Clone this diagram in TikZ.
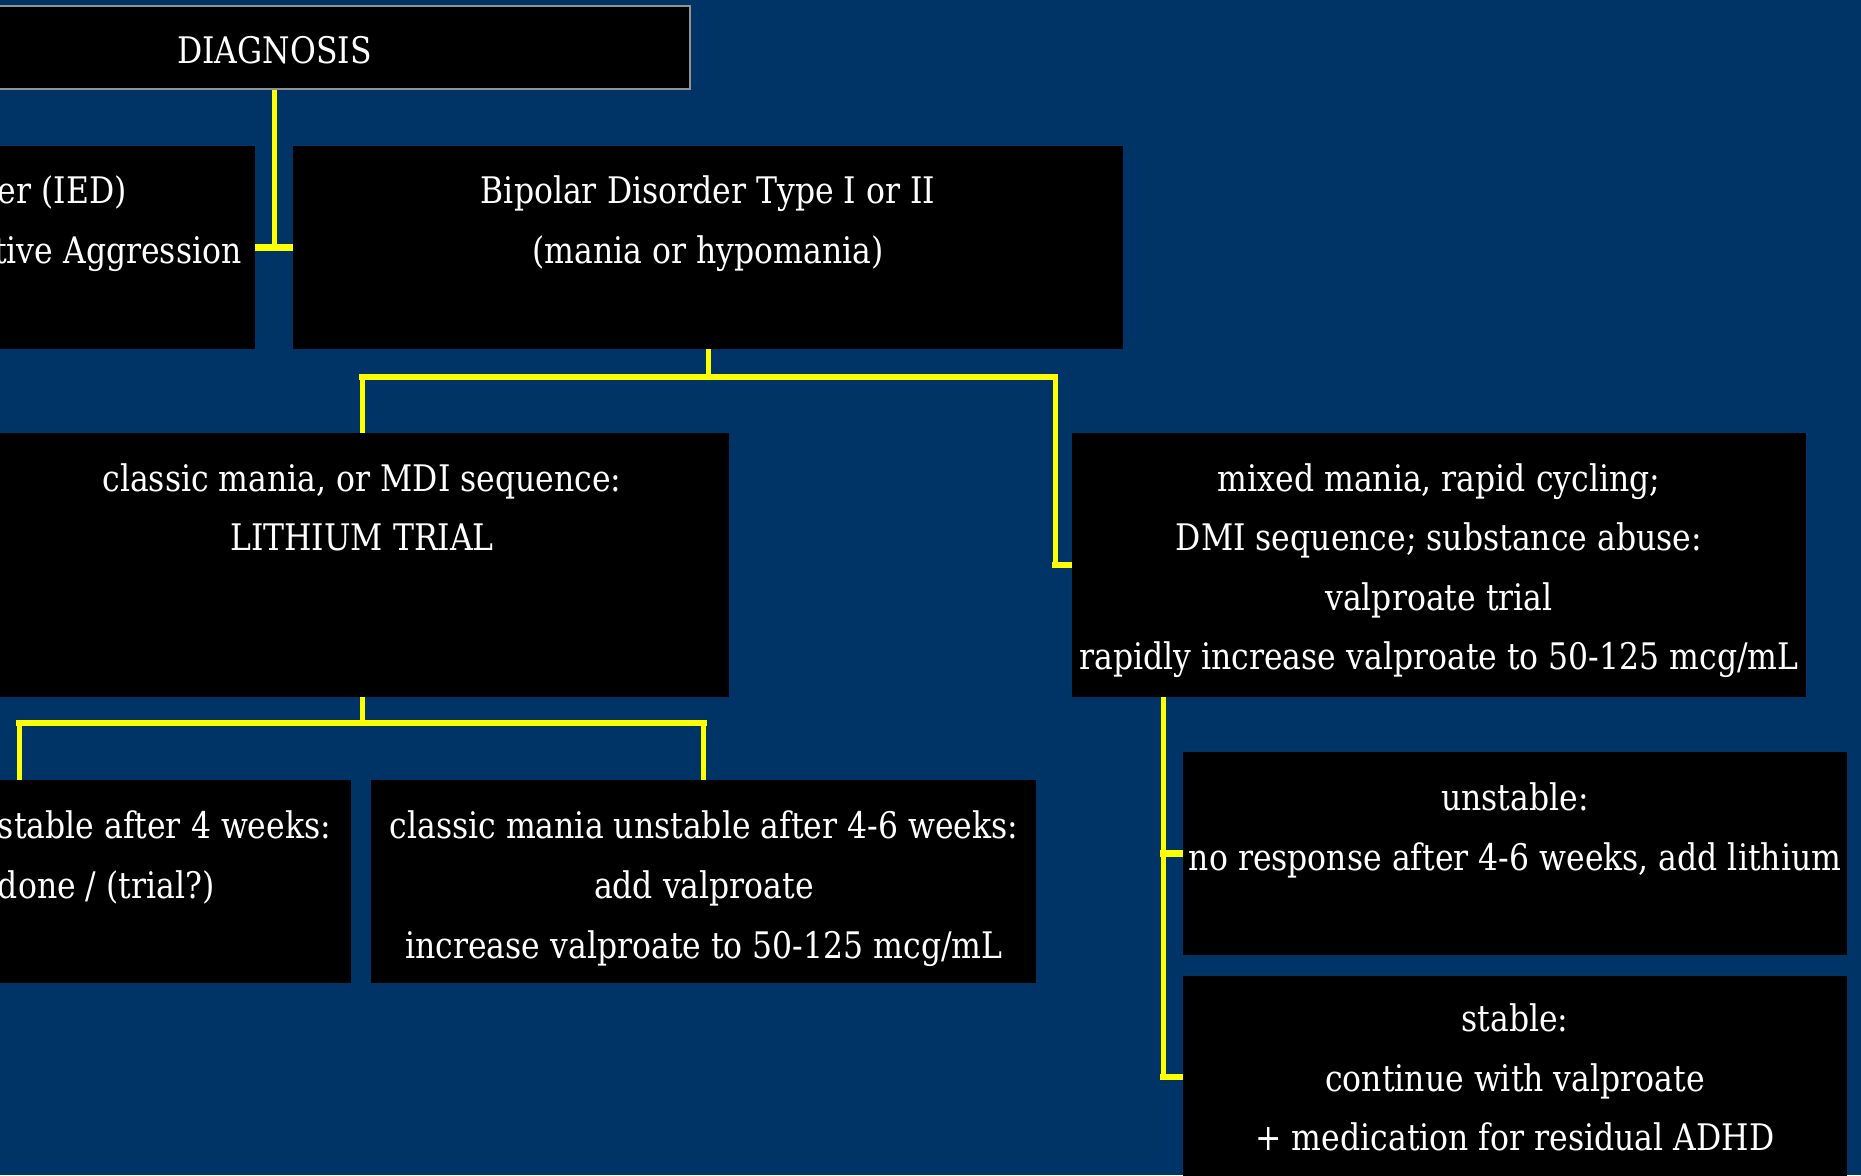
\documentclass[tikz,border=0pt]{standalone}
\usepackage{fontspec}
\setmainfont{DejaVu Serif}[FakeStretch=0.86]
\definecolor{navy}{RGB}{0,51,102}
\definecolor{yel}{RGB}{255,255,0}
\pgfdeclarelayer{bg}
\pgfdeclarelayer{lines}
\pgfsetlayers{bg,lines,main}
\begin{document}
\begin{tikzpicture}[x=0.5pt,y=-0.5pt,
  box/.style={fill=black, inner sep=0pt, minimum width=#1},
  lbl/.style={text=white, inner sep=0pt, anchor=base, font=\fontsize{18.3}{22}\selectfont},
  hconn/.style={draw=yel, line width=3.4pt, line cap=rect},
  vconn/.style={draw=yel, line width=2.5pt, line cap=rect}]
\useasboundingbox (0,0) rectangle (1861,1175);
\begin{pgfonlayer}{bg}
\fill[navy] (0,0) rectangle (1861,1175);
\end{pgfonlayer}
% boxes
\node[box=416pt, minimum height=41.5pt, draw=gray!85, line width=1pt] (diag) at (274,47.5) {};
\node[box=355pt, minimum height=101.5pt] (ied) at (-100,247.5) {};
\node[box=415pt, minimum height=101.5pt] (bip) at (708,247.5) {};
\node[box=367pt, minimum height=132pt] (classic) at (362,565) {};
\node[box=367pt, minimum height=132pt] (mixed) at (1439,565) {};
\node[box=361pt, minimum height=101.5pt] (bl) at (-10,881.5) {};
\node[box=332.5pt, minimum height=101.5pt] (bm) at (703.5,881.5) {};
\node[box=332pt, minimum height=101.5pt] (unst) at (1515,853.5) {};
\node[box=332pt, minimum height=101pt] (stable) at (1515,1077) {};
% texts
\node[lbl] (tdiag) at (274.5,63) {DIAGNOSIS};
\node[lbl, anchor=base east] (tied1) at (127,203) {der (IED)};
\node[lbl, anchor=base east] (tied2) at (242,263) {ctive Aggression};
\node[lbl] (tbip1) at (708,203) {Bipolar Disorder Type I or II};
\node[lbl] (tbip2) at (708,263) {(mania or hypomania)};
\node[lbl] (tcl1) at (362,491) {classic mania, or MDI sequence:};
\node[lbl] (tcl2) at (362,550.7) {LITHIUM TRIAL};
\node[lbl] (tmx1) at (1439,491) {mixed mania, rapid cycling;};
\node[lbl] (tmx2) at (1439,550.7) {DMI sequence; substance abuse:};
\node[lbl] (tmx3) at (1439,610) {valproate trial};
\node[lbl] (tmx4) at (1439,669.5) {rapidly increase valproate to 50-125 mcg/mL};
\node[lbl, anchor=base east] (tbl1) at (331.5,838) {nstable after 4 weeks:};
\node[lbl, anchor=base east] (tbl2) at (215,898) {done / (trial?)};
\node[lbl] (tbm1) at (704,838) {classic mania unstable after 4-6 weeks:};
\node[lbl] (tbm2) at (704,898) {add valproate};
\node[lbl] (tbm3) at (704,958) {increase valproate to 50-125 mcg/mL};
\node[lbl] (tun1) at (1515,810) {unstable:};
\node[lbl] (tun2) at (1515,870) {no response after 4-6 weeks, add lithium};
\node[lbl] (tst1) at (1515,1031.5) {stable:};
\node[lbl] (tst2) at (1515,1091.5) {continue with valproate};
\node[lbl] (tst3) at (1515,1150) {+ medication for residual ADHD};
% connectors
\coordinate (rb) at (1055,377);
\coordinate (lb) at (19,723);
\coordinate (ms) at (1163,697);
\begin{pgfonlayer}{lines}
\draw[vconn] (diag.south) -- (diag.south |- bip.west);
\draw[hconn] (ied.east) -- (bip.west);
\draw[vconn] (bip.south) -- (bip.south |- rb);
\draw[hconn] (classic.north |- rb) -- (rb);
\draw[vconn] (classic.north) -- (classic.north |- rb);
\draw[vconn] (rb) -- (rb |- mixed.west);
\draw[hconn] (rb |- mixed.west) -- (mixed.west);
\draw[vconn] (classic.south) -- (classic.south |- lb);
\draw[hconn] (lb) -- (lb -| bm.north);
\draw[vconn] (lb) -- (lb |- bl.north);
\draw[vconn] (lb -| bm.north) -- (bm.north);
\draw[vconn] (ms) -- (ms |- stable.west);
\draw[hconn] (ms |- stable.west) -- (stable.west);
\draw[hconn] (ms |- unst.west) -- (unst.west);
\end{pgfonlayer}
\end{tikzpicture}
\end{document}
